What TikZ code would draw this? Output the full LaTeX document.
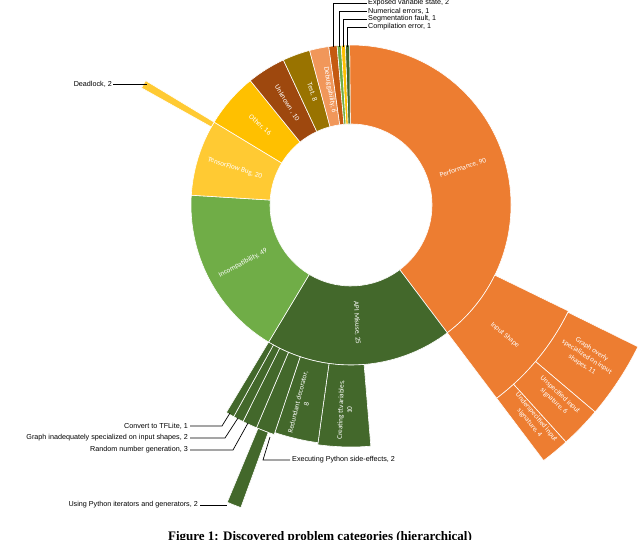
\documentclass[tikz,border=0pt]{standalone}
\usepackage{fontspec}
\setmainfont{Liberation Sans}
\newfontfamily\carlitofont{Carlito}
\newfontfamily\capfont{Liberation Serif}
\definecolor{cPerf}{HTML}{ED7D31}
\definecolor{cApi}{HTML}{43682B}
\definecolor{cInc}{HTML}{70AD47}
\definecolor{cTfb}{HTML}{FFCA33}
\definecolor{cOth}{HTML}{FFC000}
\definecolor{cUnk}{HTML}{9E480E}
\definecolor{cTst}{HTML}{997300}
\definecolor{cDbg}{HTML}{F1975A}
\definecolor{cExp}{HTML}{C55A11}
\newcommand\sbw[5]{\fill[#1,draw=white,line width=0.6pt] (#2:#4) arc[start angle=#2,end angle=#3,radius=#4] -- (#3:#5) arc[start angle=#3,end angle=#2,radius=#5] -- cycle;}
\tikzset{wl/.style={text=white,font=\carlitofont\fontsize{7.2}{9}\selectfont,align=center,inner sep=0pt},
ll/.style={font=\fontsize{7.2}{8.5}\selectfont,inner sep=0pt},
lead/.style={draw=black,line width=0.7pt}}
\begin{document}
\begin{tikzpicture}[x=1pt,y=1pt]
\useasboundingbox (0,0) rectangle (640,539);
\begin{scope}[shift={(351,334)}]
\sbw{cPerf}{90.5}{-53}{81}{160}
\sbw{cApi}{-53}{-121}{81}{160}
\sbw{cInc}{-121}{-183.5}{81}{160}
\sbw{cTfb}{-183.5}{-211.2}{81}{160}
\sbw{cOth}{-211.2}{-231}{81}{160}
\sbw{cUnk}{-231}{-245}{81}{160}
\sbw{cTst}{-245}{-255}{81}{160}
\sbw{cDbg}{-255}{-262}{81}{160}
\sbw{cExp}{98}{95}{81}{160}
\sbw{cInc}{95}{93.5}{81}{160}
\sbw{cOth}{93.5}{92}{81}{160}
\sbw{cApi}{92}{90.5}{81}{160}
% outer rings
\sbw{cPerf}{-26}{-53}{160}{242}
\sbw{cPerf}{-26.3}{-40.3}{242}{320}
\sbw{cPerf}{-40.3}{-47.8}{242}{320}
\sbw{cPerf}{-47.8}{-53}{242}{320}
\sbw{cTfb}{148.8}{150.8}{160}{240}
\sbw{cApi}{-85.3}{-97.9}{160}{242}
\sbw{cApi}{-97.9}{-108.5}{160}{240}
\sbw{cApi}{-108.5}{-113}{160}{242}
\sbw{cApi}{-113}{-116.5}{160}{242}
\sbw{cApi}{-116.5}{-119}{160}{242}
\sbw{cApi}{-119}{-121}{160}{242}
\sbw{cApi}{-110}{-112.6}{242}{322}
\end{scope}
% wedge labels
\node[wl,rotate=18] (lperf) at (463,371) {Performance, 90};
\node[wl,rotate=-87] (lapi) at (357,216) {API Misuse, 25};
\node[wl,rotate=28] (linc) at (243,276) {Incompatibility, 49};
\node[wl,rotate=-18] (ltfb) at (235,371) {TensorFlow Bug, 20};
\node[wl,rotate=-41] (loth) at (260,414) {Other, 16};
\node[wl,rotate=-58] (lunk) at (287,436) {Unknown , 10};
\node[wl,rotate=-71] (ltst) at (312,447) {Test, 8};
\node[wl,rotate=-80] (ldbg) at (330,449) {Debuggability, 6};
\node[wl,rotate=-40] (linp) at (505,204) {Input Shape};
\node[wl,rotate=-33] (lgo) at (587,182) {Graph overly\\specialized on input\\shapes, 11};
\node[wl,rotate=-43] (lun) at (557,141) {Unspecified input\\signature, 6};
\node[wl,rotate=-50] (lund) at (533,119) {Underspecified input\\signature, 4};
\node[wl,rotate=76] (lred) at (302,136) {Redundant decorator,\\8};
\node[wl,rotate=88] (lcre) at (345,129) {Creating tf.variables,\\10};
% leader labels
\node[ll,anchor=east] (tdead) at (112,455) {Deadlock, 2};
\coordinate (pdead) at (147,455);
\draw[lead] (tdead.east)++(1,0) -- (pdead);
\node[ll,anchor=east] (tconv) at (188,113) {Convert to TFLite, 1};
\coordinate (pconv) at (230,126);
\draw[lead] (tconv.east)++(2,0) -- (222,113) -- (pconv);
\node[ll,anchor=east] (tgraph) at (188,101) {Graph inadequately specialized on input shapes, 2};
\coordinate (pgraph) at (238,121);
\draw[lead] (tgraph.east)++(2,0) -- (225,101) -- (pgraph);
\node[ll,anchor=east] (trand) at (188,89) {Random number generation, 3};
\coordinate (prand) at (248,116);
\draw[lead] (trand.east)++(2,0) -- (233,89) -- (prand);
\node[ll,anchor=west] (texec) at (292,79) {Executing Python side-effects, 2};
\coordinate (pexec) at (270,102);
\draw[lead] (texec.west)++(-2,0) -- (263,79) -- (pexec);
\node[ll,anchor=east] (tuse) at (198,34) {Using Python iterators and generators, 2};
\coordinate (puse) at (227,34);
\draw[lead] (tuse.east)++(2,0) -- (puse);
\node[ll,anchor=west] (texp) at (368,536) {Exposed variable state, 2};
\node[ll,anchor=west] (tnum) at (368,528) {Numerical errors, 1};
\node[ll,anchor=west] (tseg) at (368,520) {Segmentation fault, 1};
\node[ll,anchor=west] (tcomp) at (368,512) {Compilation error, 1};
\coordinate (pexp) at (333,492);
\coordinate (pnum) at (339,492);
\coordinate (pseg) at (343,492);
\coordinate (pcomp) at (347.5,492);
\draw[lead] (texp.west)++(-1,0) -- (333,536) -- (pexp);
\draw[lead] (tnum.west)++(-1,0) -- (339,528) -- (pnum);
\draw[lead] (tseg.west)++(-1,0) -- (343,520) -- (pseg);
\draw[lead] (tcomp.west)++(-1,0) -- (347.5,512) -- (pcomp);
\node[font=\capfont\bfseries\fontsize{13}{15}\selectfont] (cap) at (320,2) {Figure 1: Discovered problem categories (hierarchical)};
\end{tikzpicture}
\end{document}
